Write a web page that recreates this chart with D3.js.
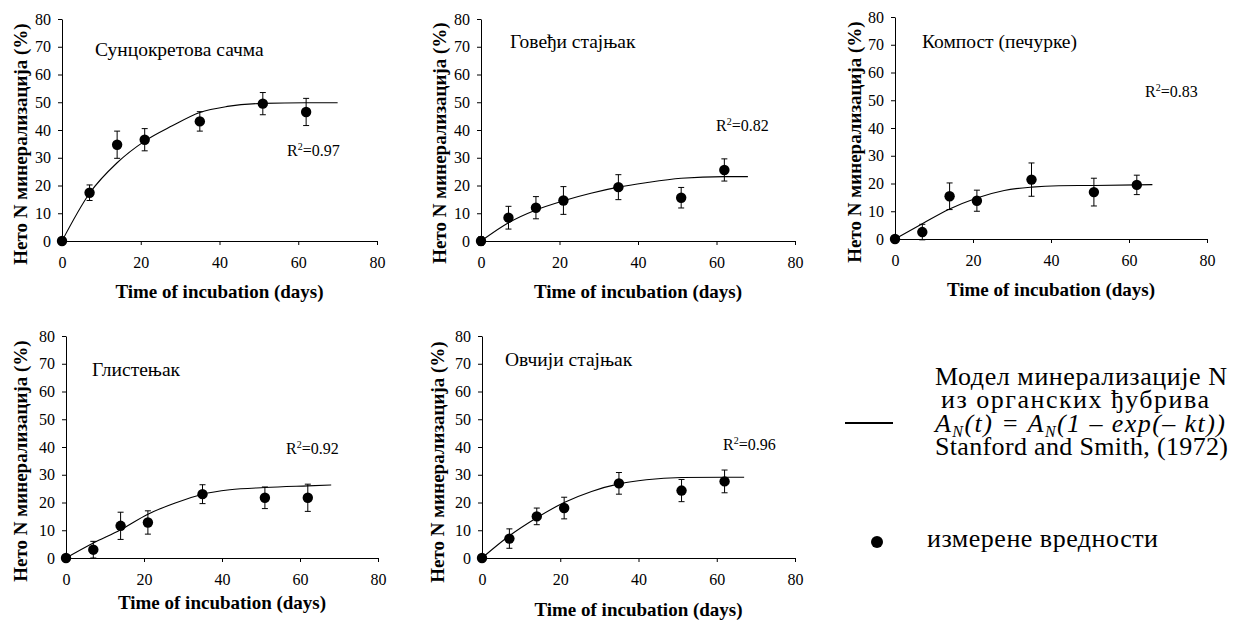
<!DOCTYPE html>
<html>
<head>
<meta charset="utf-8">
<script src="https://d3js.org/d3.v7.min.js"></script>
<style>
  body { margin: 0; background: #fff; }
  svg { display: block; }
  .domain, .tick line { stroke: #000; }
</style>
</head>
<body>
<svg id="chart" width="1233" height="621"></svg>
<script>

  var SERIF = "'Liberation Serif'";

  // sampling days and axis ticks
  var days = [0, 7, 14, 21, 35, 51, 62];
  var xTicks = [0, 20, 40, 60, 80];
  var yTicks = [0, 10, 20, 30, 40, 50, 60, 70, 80];

  var panelTitles = ["Сунцокретова сачма", "Говеђи стајњак", "Компост (печурке)", "Глистењак", "Овчији стајњак"];
  var r2Values = ["0.97", "0.82", "0.83", "0.92", "0.96"];

  // measured values (mean, +/- error)
  var sunflowerMean = [0, 17.4, 34.7, 36.5, 43.1, 49.5, 46.5];
  var sunflowerErr  = [0, 2.8, 4.9, 4.0, 3.5, 4.0, 4.9];
  var cattleMean    = [0, 8.4, 12.0, 14.6, 19.4, 15.6, 25.6];
  var cattleErr     = [1.5, 4.1, 4.0, 5.0, 4.5, 3.7, 4.0];
  var compostMean   = [0, 2.5, 15.4, 13.8, 21.4, 16.9, 19.5];
  var compostErr    = [0, 2.8, 4.8, 3.8, 6.0, 5.0, 3.5];
  var wormMean      = [0, 3.0, 11.6, 12.8, 23.0, 21.7, 21.7];
  var wormErr       = [0, 3.0, 4.9, 4.2, 3.4, 3.9, 4.9];
  var sheepMean     = [0, 7.0, 15.0, 18.0, 26.9, 24.3, 27.6];
  var sheepErr      = [0, 3.5, 3.0, 3.9, 3.9, 4.0, 4.1];

  // fitted model curves
  var sunflowerFitDays = [0, 7, 14, 21, 28, 35, 42, 51, 62, 70];
  var sunflowerFit     = [0, 17.2, 28.2, 36.0, 41.5, 46.3, 48.5, 49.6, 49.8, 49.8];
  var cattleFitDays    = [0, 7, 14, 21, 28, 35, 42, 51, 62, 68];
  var cattleFit        = [0, 6.6, 11.2, 14.5, 17.2, 19.4, 21.0, 22.6, 23.2, 23.2];
  var compostFitDays   = [0, 7, 14, 21, 28, 35, 42, 51, 62, 66];
  var compostFit       = [0, 5.5, 10.8, 14.8, 17.5, 18.7, 19.2, 19.3, 19.5, 19.6];
  var wormFitDays      = [0, 7, 14, 21, 28, 35, 42, 51, 62, 68];
  var wormFit          = [0, 5.4, 10.2, 15.8, 19.8, 23.0, 24.6, 25.4, 26.0, 26.3];
  var sheepFitDays     = [0, 7, 14, 21, 28, 35, 42, 51, 62, 67];
  var sheepFit         = [0, 8.0, 14.5, 20.0, 24.0, 26.7, 28.2, 29.0, 29.1, 29.1];

  // layout of each small chart (pixels)
  var panels = [
    {mean: sunflowerMean, err: sunflowerErr, fitX: sunflowerFitDays, fit: sunflowerFit,
     x0: 62, x1: 377, y0: 241, y1: 19, title: [95, 56], r2: [287, 156], yLab: [27, 144], xLab: 298},
    {mean: cattleMean, err: cattleErr, fitX: cattleFitDays, fit: cattleFit,
     x0: 481, x1: 795, y0: 241, y1: 19, title: [510, 48], r2: [716, 131], yLab: [446, 143], xLab: 298},
    {mean: compostMean, err: compostErr, fitX: compostFitDays, fit: compostFit,
     x0: 895, x1: 1207, y0: 239, y1: 17, title: [922, 48], r2: [1145, 97], yLab: [861, 142], xLab: 296},
    {mean: wormMean, err: wormErr, fitX: wormFitDays, fit: wormFit,
     x0: 66, x1: 378, y0: 558, y1: 336, title: [92, 376], r2: [286, 454], yLab: [27, 461], xLab: 609},
    {mean: sheepMean, err: sheepErr, fitX: sheepFitDays, fit: sheepFit,
     x0: 482, x1: 795, y0: 558, y1: 336, title: [505, 366], r2: [723, 450], yLab: [444, 462], xLab: 616}
  ];

  var svg = d3.select("#chart");

  panels.forEach(function(p, i) {

    var x = d3.scaleLinear().domain([0, 80]).range([p.x0, p.x1]);
    var y = d3.scaleLinear().domain([0, 80]).range([p.y0, p.y1]);

    var g = svg.append("g");

    // axes
    var xa = g.append("g")
      .attr("transform", "translate(0," + p.y0 + ")")
      .call(d3.axisBottom(x).tickValues(xTicks).tickSize(4).tickPadding(12).tickSizeOuter(0));

    var ya = g.append("g")
      .attr("transform", "translate(" + p.x0 + ",0)")
      .call(d3.axisLeft(y).tickValues(yTicks).tickSize(4).tickPadding(7).tickSizeOuter(0));

    [xa, ya].forEach(function(a) {
      a.attr("font-family", null);
      a.selectAll("text").style("font-family", SERIF).style("font-size", "16px").attr("fill", "#000");
    });

    // model curve
    var line = d3.line()
      .x(function(d) { return x(d[0]); })
      .y(function(d) { return y(d[1]); })
      .curve(d3.curveMonotoneX);

    g.append("path")
      .datum(d3.zip(p.fitX, p.fit))
      .attr("d", line)
      .attr("fill", "none")
      .attr("stroke", "#000")
      .attr("stroke-width", 1.1);

    // error bars
    var pts = days.map(function(t, k) { return {t: t, v: p.mean[k], e: p.err[k]}; });
    var eb = g.selectAll(".eb").data(pts.filter(function(d) { return d.e > 0; })).enter().append("g");
    eb.append("line")
      .attr("x1", function(d) { return x(d.t); }).attr("x2", function(d) { return x(d.t); })
      .attr("y1", function(d) { return y(d.v + d.e); }).attr("y2", function(d) { return y(d.v - d.e); })
      .attr("stroke", "#000");
    [1, -1].forEach(function(s) {
      eb.append("line")
        .attr("x1", function(d) { return x(d.t) - 3; }).attr("x2", function(d) { return x(d.t) + 3; })
        .attr("y1", function(d) { return y(d.v + s * d.e); }).attr("y2", function(d) { return y(d.v + s * d.e); })
        .attr("stroke", "#000");
    });

    // measured points
    g.selectAll(".dot").data(pts).enter().append("circle")
      .attr("cx", function(d) { return x(d.t); })
      .attr("cy", function(d) { return y(d.v); })
      .attr("r", 5.2)
      .attr("fill", "#000");

    // texts
    g.append("text")
      .attr("x", p.title[0]).attr("y", p.title[1])
      .style("font-family", SERIF)
      .style("font-size", "19.5px")
      .text(panelTitles[i]);

    var r2 = g.append("text")
      .attr("x", p.r2[0]).attr("y", p.r2[1])
      .style("font-family", SERIF)
      .style("font-size", "16px");
    r2.append("tspan").text("R");
    r2.append("tspan").style("font-size", "10px").attr("dy", -6).text("2");
    r2.append("tspan").attr("dy", 6).text("=" + r2Values[i]);

    g.append("text")
      .attr("transform", "translate(" + p.yLab[0] + "," + p.yLab[1] + ") rotate(-90)")
      .attr("text-anchor", "middle")
      .style("font-family", SERIF)
      .style("font-size", "19px")
      .style("font-weight", "bold")
      .text("Нето N минерализација (%)");

    g.append("text")
      .attr("x", (p.x0 + p.x1) / 2).attr("y", p.xLab)
      .attr("text-anchor", "middle")
      .style("font-family", SERIF)
      .style("font-size", "19px")
      .style("font-weight", "bold")
      .text("Time of incubation (days)");
  });

  // legend
  var leg = svg.append("g");

  leg.append("line")
    .attr("x1", 845).attr("x2", 893).attr("y1", 423).attr("y2", 423)
    .attr("stroke", "#000").attr("stroke-width", 2);

  // text widths follow the reference (its type is set a bit wide)
  function legText(x, y, s, w) {
    return leg.append("text").attr("x", x).attr("y", y)
      .attr("textLength", w)
      .style("font-family", SERIF).style("font-size", "26px").text(s);
  }

  legText(935, 385, "Модел минерализације N", 292);
  legText(941, 408, "из органских ђубрива", 268);

  var f = legText(935, 432, null, 290).style("font-style", "italic");
  f.append("tspan").text("A");
  f.append("tspan").style("font-size", "16px").attr("dy", 5).text("N");
  f.append("tspan").attr("dy", -5).text("(t) = A");
  f.append("tspan").style("font-size", "16px").attr("dy", 5).text("N");
  f.append("tspan").attr("dy", -5).text("(1 – exp(– kt))");

  legText(935, 455, "Stanford and Smith, (1972)", 293);

  leg.append("circle").attr("cx", 877).attr("cy", 542).attr("r", 6).attr("fill", "#000");
  legText(927, 547, "измерене вредности", 231);

</script>
</body>
</html>
